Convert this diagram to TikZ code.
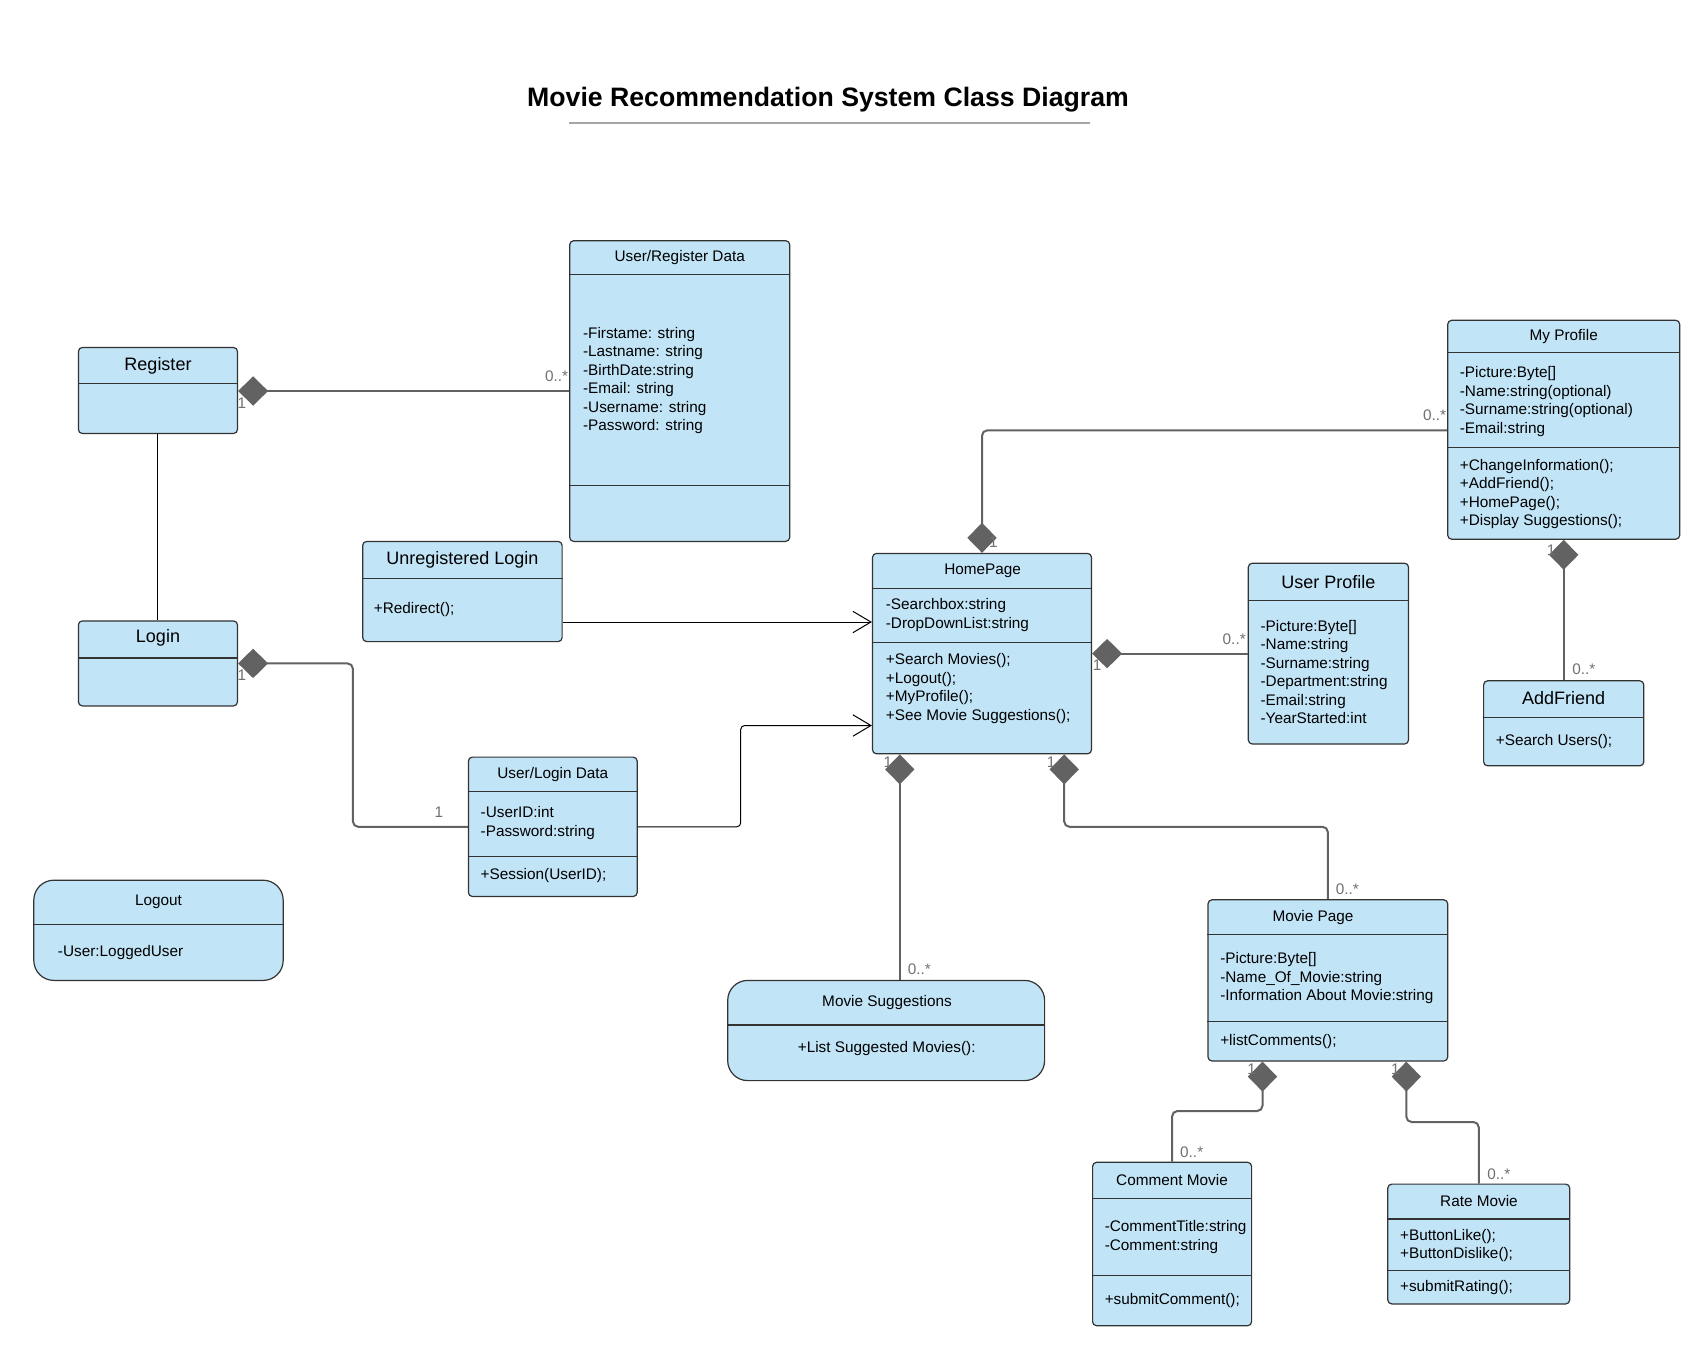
\documentclass[tikz,border=0pt]{standalone}
\usepackage{fontspec}
\setmainfont{Liberation Sans}
\usetikzlibrary{arrows.meta,fit,calc}
\definecolor{boxblue}{RGB}{194,228,247}
\definecolor{linegray}{RGB}{98,98,98}
\definecolor{labelgray}{RGB}{112,112,112}

\begin{document}
\begin{tikzpicture}[x=0.75pt,y=-0.75pt,
  cls/.style={draw=black!80, fill=boxblue, line width=0.9pt, rounded corners=3pt, inner sep=0pt},
  clsround/.style={cls, rounded corners=15pt},
  divider/.style={draw=black!80, line width=0.8pt},
  hd/.style={font=\fontsize{11.5}{13.9}\selectfont, yshift=-1.6pt},
  bighd/.style={font=\fontsize{13.5}{16}\selectfont, yshift=-1.6pt},
  txt/.style={font=\fontsize{11.5}{13.9}\selectfont, align=left, anchor=west, inner sep=0pt, yshift=-1.6pt},
  mult/.style={font=\fontsize{11.5}{13.9}\selectfont, text=labelgray, inner sep=0pt, yshift=-0.8pt},
  comp/.style={draw=linegray, line width=1.5pt, rounded corners=4pt, {Diamond[length=22.5pt,width=22pt]}-},
  assoc/.style={draw=black, line width=0.75pt},
  nav/.style={assoc, rounded corners=3pt, -{Straight Barb[length=13.5pt,width=16pt]}}]
\useasboundingbox (0,0) rectangle (1708,1360);
\fill[white] (0,0) rectangle (1708,1360);

% title
\node[font=\fontsize{20}{24}\selectfont\bfseries] (title) at (828,100) {Movie Recommendation System Class Diagram};
\draw[black!35, line width=1.5pt] (569,123) -- (1090,123);

% classes
\node[cls, fit={(78.4,347.5) (237.5,433.5)}] (reg) {};
\node[cls, fit={(569.7,240.7) (789.7,541.4)}] (rdata) {};
\node[cls, fit={(78.4,620.9) (237.5,705.9)}] (login) {};
\node[cls, fit={(362.7,541.4) (562.1,641.6)}] (unreg) {};
\node[cls, fit={(872.5,553.4) (1091.5,753.8)}] (home) {};
\node[cls, fit={(1248.3,563.2) (1408.5,744)}] (uprof) {};
\node[cls, fit={(1447.7,320.3) (1679.7,539.2)}] (myp) {};
\node[cls, fit={(1483.6,680.8) (1643.8,765.8)}] (addf) {};
\node[cls, fit={(468.4,757.1) (637.2,896.5)}] (uld) {};
\node[clsround, fit={(33.8,880.2) (283.2,980.4)}] (logout) {};
\node[clsround, fit={(727.7,980.4) (1044.6,1080.6)}] (msug) {};
\node[cls, fit={(1208,899.8) (1447.7,1061)}] (mpage) {};
\node[cls, fit={(1092.6,1162.3) (1251.6,1325.7)}] (cmov) {};
\node[cls, fit={(1387.8,1184.1) (1569.7,1303.9)}] (rmov) {};

\foreach \b/\y in {reg/383.4, rdata/274.5, rdata/485.8, login/658, unreg/578.4,
  home/588.2, home/642.7, uprof/600.2, myp/352.9, myp/447.7, addf/717.9,
  uld/791.9, uld/856.2, logout/924.8, msug/1025, mpage/934.6, mpage/1021.8,
  cmov/1198.2, cmov/1275.6, rmov/1219, rmov/1270.1}
  \draw[divider] (\b.west |- 0,\y) -- (\b.east |- 0,\y);

% class names
\node[bighd] (reg-t) at (158,364) {Register};
\node[hd] (rdata-t) at (679.7,255.5) {User/Register Data};
\node[bighd] (login-t) at (158,636.2) {Login};
\node[bighd] (unreg-t) at (462.4,557.7) {Unregistered Login};
\node[hd] (home-t) at (982.6,569) {HomePage};
\node[bighd] (uprof-t) at (1328.4,579.5) {User Profile};
\node[hd] (myp-t) at (1563.7,334.4) {My Profile};
\node[bighd] (addf-t) at (1563.7,696) {AddFriend};
\node[hd] (uld-t) at (552.8,772.3) {User/Login Data};
\node[hd] (logout-t) at (158.5,899.8) {Logout};
\node[hd] (msug-t) at (887,1000) {Movie Suggestions};
\node[hd] (mpage-t) at (1313,915) {Movie Page};
\node[hd] (cmov-t) at (1172,1177.5) {Comment Movie};
\node[hd] (rmov-t) at (1479,1199.3) {Rate Movie};

% members
\node[txt] (rdata-a) at (582.8,378.5) {-Firstame: string\\-Lastname: string\\-BirthDate:string\\-Email: string\\-Username: string\\-Password: string};
\node[txt] (unreg-m) at (373.6,607.8) {+Redirect();};
\node[txt] (home-a) at (885.6,612.8) {-Searchbox:string\\-DropDownList:string};
\node[txt] (home-m) at (885.6,686.3) {+Search Movies();\\+Logout();\\+MyProfile();\\+See Movie Suggestions();};
\node[txt] (uprof-a) at (1260.3,669.9) {-Picture:Byte[]\\-Name:string\\-Surname:string\\-Department:string\\-Email:string\\-YearStarted:int};
\node[txt] (myp-a) at (1459.6,399.3) {-Picture:Byte[]\\-Name:string(optional)\\-Surname:string(optional)\\-Email:string};
\node[txt] (myp-m) at (1459.6,491.8) {+ChangeInformation();\\+AddFriend();\\+HomePage();\\+Display Suggestions();};
\node[txt] (addf-m) at (1495.6,739.6) {+Search Users();};
\node[txt] (uld-a) at (480.4,820.8) {-UserID:int\\-Password:string};
\node[txt] (uld-m) at (480.4,873.6) {+Session(UserID);};
\node[txt] (logout-a) at (57.7,949.9) {-User:LoggedUser};
\node[txt, anchor=center] (msug-m) at (886.7,1046.8) {+List Suggested Movies():};
\node[txt] (mpage-a) at (1220,976) {-Picture:Byte[]\\-Name\_Of\_Movie:string\\-Information About Movie:string};
\node[txt] (mpage-m) at (1220,1039.2) {+listComments();};
\node[txt] (cmov-a) at (1104.5,1234.8) {-CommentTitle:string\\-Comment:string};
\node[txt] (cmov-m) at (1104.5,1298.5) {+submitComment();};
\node[txt] (rmov-a) at (1399.8,1243.5) {+ButtonLike();\\+ButtonDislike();};
\node[txt] (rmov-m) at (1399.8,1285.4) {+submitRating();};

% relations
\draw[comp] (reg.east |- 0,391) -- (rdata.west |- 0,391);
\draw[assoc] (reg.south) -- (login.north);
\draw[comp] (login.east |- 0,663.4) -| (352.9,826.8) -- (uld.west);
\draw[nav] (unreg.east |- 0,622) -- (home.west |- 0,622);
\draw[nav] (uld.east) -| (740.7,725.5) -- (home.west |- 0,725.5);
\draw[comp] (home.north) |- (myp.west |- 0,430.3);
\draw[comp] (home.east |- uprof.west) -- (uprof.west);
\draw[comp] (myp.south) -- (addf.north);
\draw[comp] (home.south -| 899.8,0) -- (msug.north -| 899.8,0);
\draw[comp] (home.south -| 1064.2,0) |- (mpage.north |- 0,826.8) -- (mpage.north);
\draw[comp] (mpage.south -| 1262.5,0) |- (cmov.north |- 0,1111) -- (cmov.north);
\draw[comp] (mpage.south -| 1406.3,0) |- (rmov.north |- 0,1122) -- (rmov.north);

% multiplicities
\foreach \x/\y/\t [count=\i] in {241.8/402/1, 556.6/374.7/0..*, 241.8/674.3/1, 439/811.5/1,
  993.4/541.4/1, 1434.6/414/0..*, 1097/664.5/1, 1234.2/638.3/0..*,
  1551.2/549/1, 1583.8/667.7/0..*, 887.8/761.4/1, 919.4/968.4/0..*,
  1051.2/761.4/1, 1347.4/887.8/0..*, 1251.6/1068.6/1, 1191.7/1151.4/0..*,
  1395.4/1068.6/1, 1498.9/1173.2/0..*}
  \node[mult] (mult\i) at (\x,\y) {\t};
\end{tikzpicture}
\end{document}
